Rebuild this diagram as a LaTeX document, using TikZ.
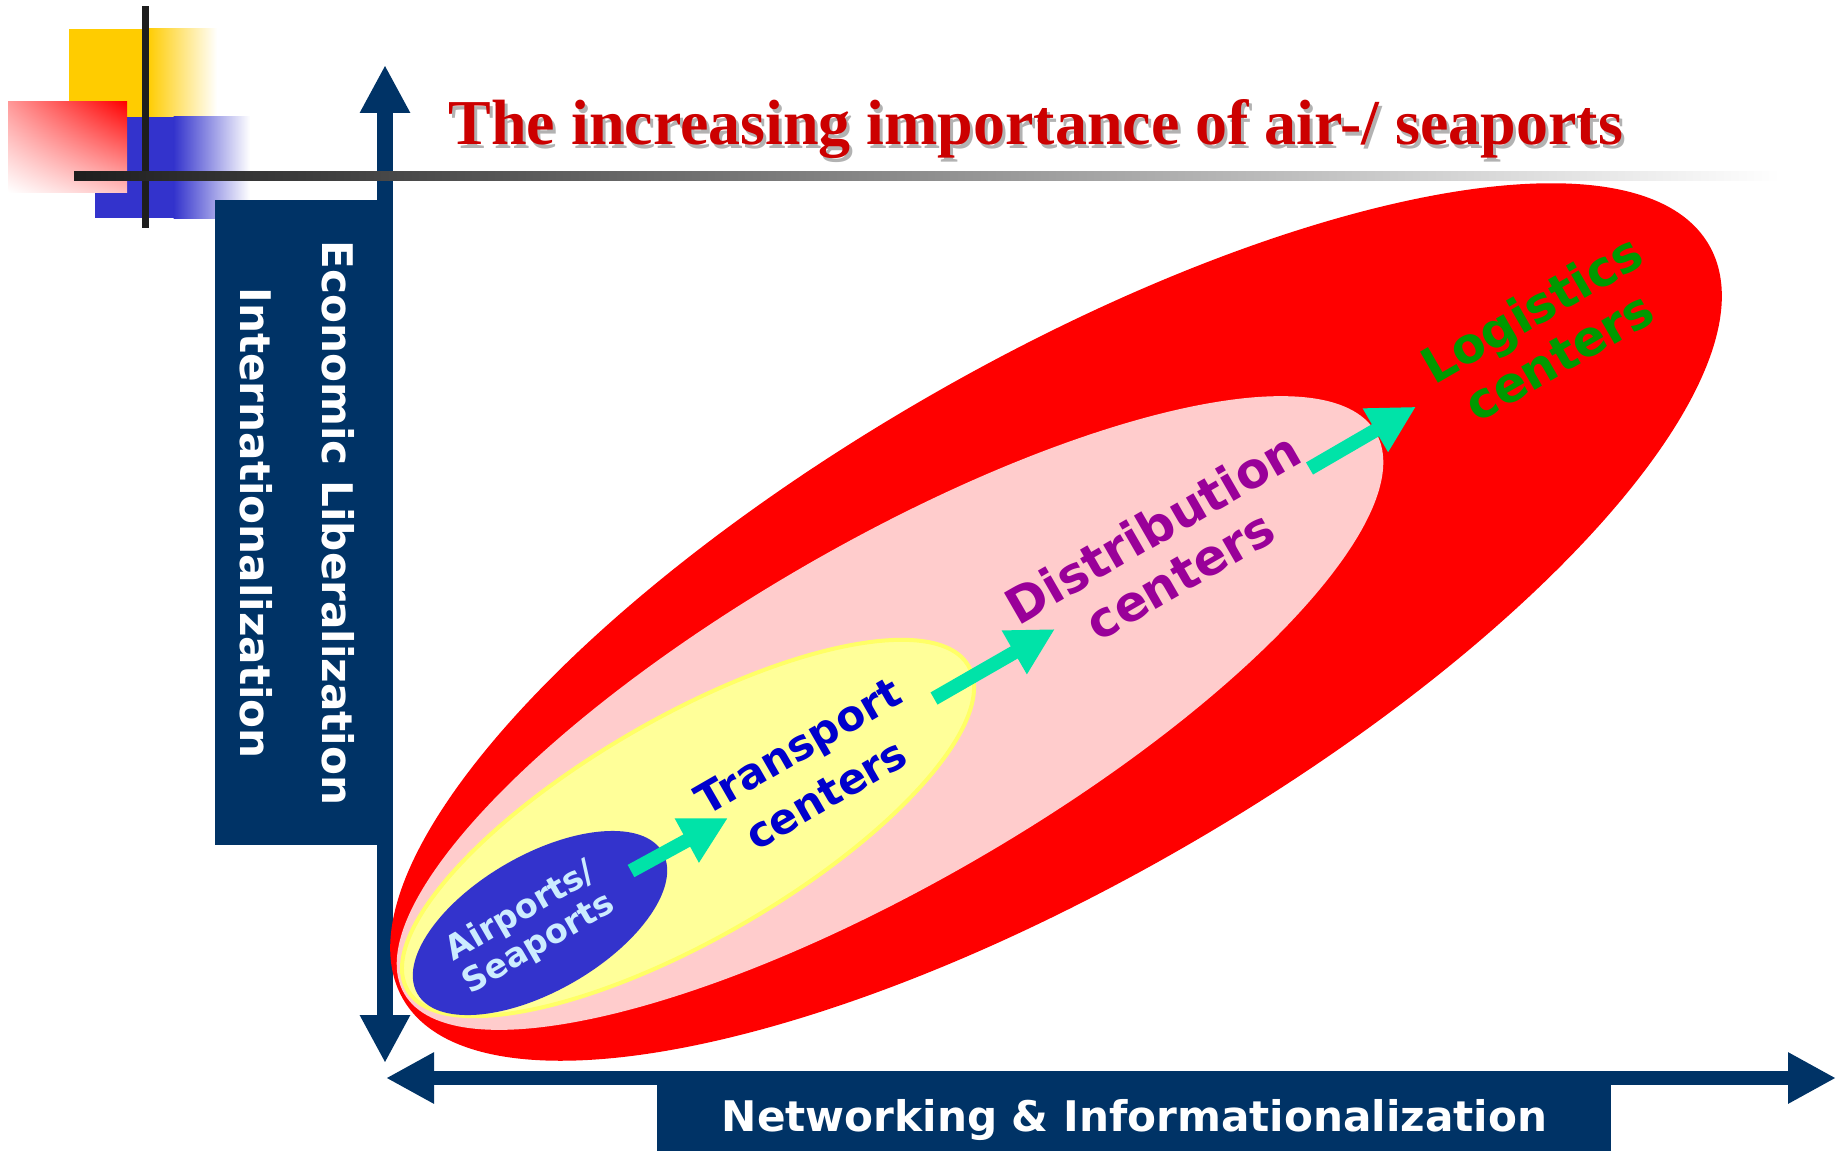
\documentclass[tikz,border=0pt]{standalone}
\usepackage{fontspec}
\setmainfont{DejaVu Sans}
\newfontfamily\titlefont{Liberation Serif}
\usetikzlibrary{positioning,shapes.geometric,arrows.meta,shadings}

\definecolor{navy}{RGB}{0,51,102}
\definecolor{titlered}{RGB}{204,0,0}
\definecolor{ringred}{RGB}{255,0,0}
\definecolor{ringpink}{RGB}{255,204,204}
\definecolor{ringyellow}{RGB}{255,255,153}
\definecolor{rimyellow}{RGB}{255,255,102}
\definecolor{portblue}{RGB}{51,51,204}
\definecolor{portlabel}{RGB}{204,236,255}
\definecolor{transblue}{RGB}{0,0,204}
\definecolor{distpurple}{RGB}{153,0,153}
\definecolor{logigreen}{RGB}{0,153,0}
\definecolor{flowteal}{RGB}{0,227,168}
\definecolor{decoyellow}{RGB}{255,204,0}
\definecolor{barblack}{RGB}{30,30,30}

\tikzset{
  ring/.style={ellipse, inner sep=0pt, rotate=30},
  stage/.style={rotate=30, align=center, font=\bfseries\fontsize{14}{15.5}\selectfont},
  flow/.style={flowteal, line width=1.4mm, -{Triangle[width=4.7mm,length=4.7mm]}},
  navybox/.style={fill=navy, inner sep=0pt},
  axislabel/.style={text=white, font=\bfseries\fontsize{12}{23.3}\selectfont},
  titletext/.style={anchor=base west, inner sep=0pt, font=\titlefont\bfseries\fontsize{18.2}{20}\selectfont},
}

\begin{document}
\begin{tikzpicture}[x=0.1mm, y=-0.1mm]
    \useasboundingbox (0,0) rectangle (1841,1151);

    % corner squares
    \fill[decoyellow] (69,29) rectangle (148,117);
    \shade[left color=decoyellow, right color=white] (147.5,29) rectangle (217,117);
    \fill[portblue] (95,117) rectangle (174,218);
    \shade[left color=portblue, right color=white] (173.5,117) rectangle (250,218);
    \shade[upper right=ringred, upper left=ringred!40, lower right=ringred!25, lower left=white] (8,102) rectangle (127,192);
    \fill[barblack] (142,6) rectangle (149,228);

    % axes
    \coordinate (ytop) at (385,65);
    \coordinate (ybot) at (385,1063);
    \coordinate (xleft) at (386,1078);
    \coordinate (xright) at (1836,1078);
    \node[navybox, minimum width=17.8mm, minimum height=64.5mm] (ybox) at (304,522.5) {};
    \node[navybox, minimum width=95.4mm, minimum height=7.3mm] (xbox) at (1134,1114.5) {};
    \draw[navy, line width=1.6mm, {Triangle[width=4.7mm,length=4.8mm]}-{Triangle[width=4.7mm,length=4.8mm]}] (ytop) -- (ybot);
    \draw[navy, line width=1.4mm, {Triangle[width=4.8mm,length=4.8mm]}-{Triangle[width=4.8mm,length=4.8mm]}] (xleft) -- (xright);
    \node[axislabel, rotate=-90, align=center] (ylabel) at (297,523) {Economic Liberalization\\Internationalization};
    \node[axislabel, anchor=base] (xlabel) at (1134.5,1131) {Networking \& Informationalization};

    % title and rule
    \shade[left color=barblack, right color=white] (74,172) rectangle (1780,180);
    \node[titletext, text=black!30] (titleshadow) at (451,148) {The increasing importance of air-/ seaports};
    \node[titletext, text=titlered] (title) at (448,145) {The increasing importance of air-/ seaports};

    % nested rings
    \node[ring, fill=ringred, minimum width=150.8mm, minimum height=51.8mm] (logiring) at (1056,622) {};
    \node[ring, fill=ringpink, minimum width=112.2mm, minimum height=34mm] (distring) at (890,713) {};
    \node[ring, fill=ringyellow, draw=rimyellow, line width=0.4mm, minimum width=64.8mm, minimum height=22.1mm] (transring) at (688,828) {};
    \node[ring, fill=portblue, minimum width=28.3mm, minimum height=13.6mm] (portring) at (540,923) {};

    \node[stage, text=portlabel, font=\bfseries\fontsize{9.5}{10.5}\selectfont] (port) at (530,928) {Airports/\\Seaports};
    \node[stage, text=transblue, font=\bfseries\fontsize{12}{15.8}\selectfont] (trans) at (812,770) {Transport\\centers};
    \node[stage, text=distpurple] (dist) at (1166,551) {Distribution\\centers};
    \node[stage, text=logigreen] (logi) at (1545,332) {Logistics\\centers};

    % steps
    \coordinate (portout) at (631,871);
    \coordinate (transin) at (728,818);
    \coordinate (transout) at (934,698.5);
    \coordinate (distin) at (1055,629);
    \coordinate (distout) at (1309.5,468.5);
    \coordinate (logiin) at (1416,406.7);
    \draw[flow] (portout) -- (transin);
    \draw[flow] (transout) -- (distin);
    \draw[flow] (distout) -- (logiin);
\end{tikzpicture}
\end{document}
